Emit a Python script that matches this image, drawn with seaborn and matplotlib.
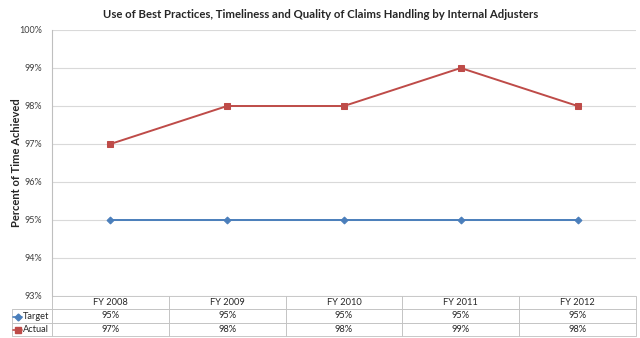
import matplotlib
matplotlib.use("Agg")
import matplotlib.pyplot as plt
import seaborn as sns
import pandas as pd
from matplotlib.lines import Line2D

categories = ["FY 2008", "FY 2009", "FY 2010", "FY 2011", "FY 2012"]
target = [95, 95, 95, 95, 95]
actual = [97, 98, 98, 99, 98]
yticks = [93, 94, 95, 96, 97, 98, 99, 100]
series_names = ["Target", "Actual"]

sns.set_theme(style="white")
plt.rcParams["font.family"] = ["Lato", "DejaVu Sans"]

fig = plt.figure(figsize=(6.4, 3.38), dpi=100)
ax = fig.add_axes([52/640, 42/338, 584/640, 266/338])

df = pd.DataFrame({"x": list(range(len(categories))) * 2,
                   "y": target + actual,
                   "series": ["Target"] * 5 + ["Actual"] * 5})
blue = "#4a7ebb"
red = "#be4b48"
sns.lineplot(data=df[df.series == "Target"], x="x", y="y", ax=ax, color=blue,
             marker="D", markersize=3.5, markeredgecolor=blue, linewidth=1.4)
sns.lineplot(data=df[df.series == "Actual"], x="x", y="y", ax=ax, color=red,
             marker="s", markersize=4, markeredgecolor=red, linewidth=1.4)

ax.set_xlim(-0.5, len(categories) - 0.5)
ax.set_ylim(93, 100)
ax.set_yticks(yticks)
ax.set_yticklabels([f"{v}%" for v in yticks], fontsize=6.5, color="#404040")
ax.set_xticks([])
ax.set_xlabel("")
ax.set_ylabel("")
ax.tick_params(axis="y", length=0, pad=7)
ax.grid(axis="y", color="#d9d9d9", linewidth=0.8)
for s in ["top", "right", "bottom"]:
    ax.spines[s].set_visible(False)
ax.spines["left"].set_color("#bfbfbf")
ax.spines["left"].set_linewidth(0.8)

fig.text(17/640, (338 - 163)/338, "Percent of Time Achieved", rotation=90,
         fontsize=8, fontweight="bold", ha="center", va="center")
fig.text(321/640, (338 - 15)/338,
         "Use of Best Practices, Timeliness and Quality of Claims Handling by Internal Adjusters",
         fontsize=8.2, fontweight="bold", ha="center", va="center")

# data table
cell_text = [[""] + categories,
             [""] + [f"{v}%" for v in target],
             [""] + [f"{v}%" for v in actual]]
lab_w = 40 / 584
col_w = [lab_w] + [1 / 5] * 5
tbl = ax.table(cellText=cell_text, colWidths=col_w, cellLoc="center",
               bbox=[-lab_w, -40/266, 1 + lab_w, 40/266])
tbl.auto_set_font_size(False)
for (r, c), cell in tbl.get_celld().items():
    cell.set_edgecolor("#bfbfbf")
    cell.set_linewidth(0.6)
    cell.get_text().set_fontsize(6.7)
    cell.get_text().set_color("#262626")
tbl[0, 0].visible_edges = "BR"

# legend keys + row labels in label cells
for i, (col, mk) in enumerate([(blue, "D"), (red, "s")]):
    yy = (338 - (316.5 + 13 * i)) / 338
    fig.add_artist(Line2D([13/640, 22/640], [yy, yy], color=col, linewidth=1.2))
    fig.add_artist(Line2D([18/640], [yy], color=col, marker=mk,
                          markersize=3.5 if mk == "D" else 4, linestyle="none"))
    fig.text(22.5/640, yy, series_names[i], fontsize=6.7, color="#262626",
             ha="left", va="center")

fig.savefig("out.png", dpi=100)
